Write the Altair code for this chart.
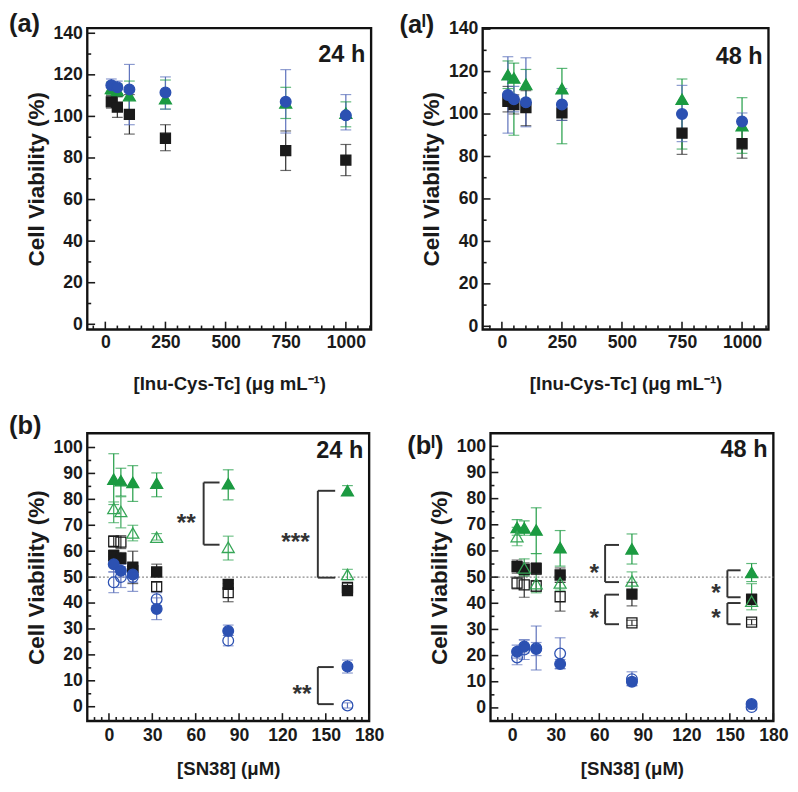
import altair as alt
import pandas as pd

FONT = "Liberation Sans"
INK = "#1a1a1a"
GREEN = "#1b9a41"
GREEN_O = "#36a657"
BLUE = "#2c51b2"
BLUE_E = "#5a6fba"

# ---------------- data ----------------
inu_conc = [25, 50, 100, 250, 750, 1000]
sn38_conc = [3.3, 8.25, 16.5, 33, 82.5, 165]

# (a) 24 h
a24_sq = [107, 104.5, 101, 89.5, 83.5, 79]
a24_sq_lo = [104, 99.5, 91.5, 83.5, 74, 71.5]
a24_sq_hi = [110, 109.5, 110.5, 96, 93, 86.5]
a24_tri = [113.5, 112.5, 110, 108.5, 106.5, 101.5]
a24_tri_lo = [110.5, 109.5, 103, 103.5, 99, 95]
a24_tri_hi = [116.5, 115.5, 117, 117.5, 114, 107]
a24_cir = [115, 114, 113, 111.5, 107, 100.5]
a24_cir_lo = [112, 111, 96, 103.5, 92, 93.5]
a24_cir_hi = [118, 117, 125, 119, 122.5, 110.5]

# (a') 48 h
a48_sq = [106, 104.5, 103, 100.5, 91, 86]
a48_sq_lo = [101, 100, 94.5, 97, 81, 79.2]
a48_sq_hi = [113, 109, 111, 104, 100.5, 92.5]
a48_tri = [118.5, 117, 114, 112, 107, 94.5]
a48_tri_lo = [112, 90, 107, 86, 83.5, 81.5]
a48_tri_hi = [125, 124, 121, 121.5, 116.5, 107.7]
a48_cir = [109, 107, 105.5, 104.5, 100, 96.5]
a48_cir_lo = [91, 101, 94, 97, 87, 92.5]
a48_cir_hi = [127, 113, 126.5, 112, 113.5, 100.5]

# (b) 24 h
b24_trif = [87.8, 87.2, 86.5, 86.2, 86, 83.3]
b24_trif_lo = [78, 81.3, 79.2, 81, 79.8, 81.5]
b24_trif_hi = [97.6, 92, 93, 90.2, 91.4, 85.3]
b24_trio = [76.5, 75.3, 67, 65.4, 61.5, 51]
b24_trio_lo = [71, 69, 64, 64.3, 56.6, 49]
b24_trio_hi = [79, 81, 70, 66.8, 65.8, 53]
b24_sqf = [58.3, 57.2, 53.8, 52, 47.2, 44.8]
b24_sqf_lo = [56, 55, 47.5, 50, 45.5, 44]
b24_sqf_hi = [60.5, 59.5, 60, 55, 49, 45.8]
b24_sqo = [63.8, 63.5, 52.5, 46.3, 44, 46]
b24_sqo_lo = [61.5, 61, 50, 44.5, 40.5, 44.5]
b24_sqo_hi = [66, 66, 55, 48, 47.5, 47.5]
b24_cirf = [55, 52.5, 51, 37.7, 29.2, 15.5]
b24_cirf_lo = [52, 50, 48, 33.6, 27.5, 13]
b24_cirf_hi = [58, 55, 54, 42, 31.5, 18]
b24_ciro = [48, 50, 50, 41.5, 25.5, 0.5]
b24_ciro_lo = [44, 46, 44.5, 39, 23.5, -0.5]
b24_ciro_hi = [52, 54, 55.5, 44, 27.5, 1.5]

# (b') 48 h
b48_trif = [69, 68.8, 68, 61.3, 60.8, 51.8]
b48_trif_lo = [66, 66, 59, 54.2, 55, 48.3]
b48_trif_hi = [72, 71.5, 76.5, 67.8, 66.5, 55.2]
b48_trio = [65.5, 53.5, 47.5, 47.8, 48.5, 40.8]
b48_trio_lo = [62, 50.5, 44, 45, 45, 37.5]
b48_trio_hi = [69, 57, 59, 50.5, 52, 47.5]
b48_sqf = [54, 53, 53.2, 50.8, 43.5, 41.5]
b48_sqf_lo = [51.5, 50.5, 51, 48, 39, 39.5]
b48_sqf_hi = [56.5, 55.5, 55.5, 53.5, 48, 43.5]
b48_sqo = [47.7, 47, 46.6, 42.5, 32.5, 32.8]
b48_sqo_lo = [45.5, 42.3, 44.5, 37, 31.5, 31.8]
b48_sqo_hi = [50, 51.7, 48.7, 48, 33.5, 33.8]
b48_cirf = [21.5, 23.5, 22.5, 16.8, 10, 1.5]
b48_cirf_lo = [19, 21, 20, 15, 8.5, 0.5]
b48_cirf_hi = [24, 26, 25, 18.5, 11.5, 2.5]
b48_ciro = [19.3, 22.3, 22.8, 20.8, 11, 0.3]
b48_ciro_lo = [16.5, 18.5, 14.5, 15, 8.5, -0.5]
b48_ciro_hi = [22, 26, 31.3, 26.8, 13.8, 1.2]

# significance brackets: x of vertical line, x of arm end, y top, y bottom
b24_br_x = [65.5, 144.5, 144.5]
b24_br_xe = [76.5, 156.5, 155.5]
b24_br_yt = [86.5, 83.3, 15.3]
b24_br_yb = [62.5, 49.8, 1.0]
b24_star_x = [53.5, 129, 133.5]
b24_star_y = [73, 65.8, 7.1]
b24_star_t = ["**", "***", "**"]

b48_br_x = [64, 64, 148.3, 148.3]
b48_br_xe = [73.6, 73.6, 157.4, 157.4]
b48_br_yt = [62.3, 43.3, 52.6, 40.1]
b48_br_yb = [48.1, 32, 42.3, 32]
b48_star_x = [56.6, 56.6, 140.4, 140.4]
b48_star_y = [53.8, 36.5, 46.2, 36.5]
b48_star_t = ["*", "*", "*", "*"]

ref_line = [50]

SERIES = ["sq_f", "sq_o", "tri_f", "tri_o", "cir_f", "cir_o"]
SHAPES = ["square", "square", "triangle-up", "triangle-up", "circle", "circle"]
STROKES = [INK, INK, GREEN, GREEN_O, BLUE, BLUE]
FILLS = [INK, "transparent", GREEN, "transparent", BLUE, "transparent"]
ERRC = ["#2a2a2a", "#2a2a2a", GREEN, GREEN_O, BLUE_E, BLUE_E]
SIZES = [105, 105, 150, 150, 120, 120]


def panel(xs, series, xdom, ydom, xlabels, ylabels, xminor, yminor, W, H,
          xtitle, label, lab_x, lab_y, time_txt, time_y, xlabpad, xtitlepad,
          brackets=None, stars=None, ref=None):
    xscale = alt.Scale(domain=xdom, nice=False, zero=False)
    yscale = alt.Scale(domain=ydom, nice=False, zero=False)
    xaxis = alt.Axis(values=xlabels, title=xtitle, ticks=False, domain=False, grid=False,
                     labelPadding=xlabpad, titlePadding=xtitlepad, labelFlush=False,
                     format="d", titleFontSize=19)
    yaxis = alt.Axis(values=ylabels, title="Cell Viability (%)", ticks=False, domain=False,
                     grid=False, labelPadding=5, titlePadding=5, labelFlush=False,
                     format="d", titleFontSize=23)

    def X(f):
        return alt.X(f, type="quantitative", scale=xscale, axis=xaxis)

    def Y(f):
        return alt.Y(f, type="quantitative", scale=yscale, axis=yaxis)

    rows = []
    for name, ys, lo, hi in series:
        for xv, yv, l, h in zip(xs, ys, lo, hi):
            rows.append(dict(x=xv, y=yv, lo=l, hi=h, s=name))
    df = pd.DataFrame(rows)

    ecol = alt.Color("s:N", scale=alt.Scale(domain=SERIES, range=ERRC), legend=None)
    layers = []
    if ref is not None:
        layers.append(alt.Chart(pd.DataFrame({"y": ref})).mark_rule(
            color="#8a8a8a", strokeDash=[2, 2], strokeWidth=1.2).encode(
            y=Y("y"), x=alt.value(0), x2=alt.value(W)))
    if brackets is not None:
        bx, bxe, byt, byb = brackets
        segs = []
        for x0, x1, y0, y1 in zip(bx, bxe, byt, byb):
            segs.append(dict(x=x0, x2=x0, y=y0, y2=y1))
            segs.append(dict(x=x0, x2=x1, y=y0, y2=y0))
            segs.append(dict(x=x0, x2=x1, y=y1, y2=y1))
        layers.append(alt.Chart(pd.DataFrame(segs)).mark_rule(
            color="#333333", strokeWidth=2).encode(
            x=X("x"), x2="x2", y=Y("y"), y2="y2"))
    if stars is not None:
        sx, sy, st = stars
        layers.append(alt.Chart(pd.DataFrame({"x": sx, "y": sy, "t": st})).mark_text(
            fontSize=25, fontWeight="bold", color="#333333", dy=6, font=FONT).encode(
            x=X("x"), y=Y("y"), text="t:N"))
    layers.append(alt.Chart(df).mark_rule(strokeWidth=1.2).encode(
        x=X("x"), y=Y("lo"), y2="hi", color=ecol))
    for f in ["lo", "hi"]:
        layers.append(alt.Chart(df).mark_tick(orient="horizontal", size=11, thickness=1.2).encode(
            x=X("x"), y=Y(f), color=ecol))
    layers.append(alt.Chart(df).mark_point(opacity=1, strokeWidth=1.3).encode(
        x=X("x"), y=Y("y"),
        shape=alt.Shape("s:N", scale=alt.Scale(domain=SERIES, range=SHAPES), legend=None),
        stroke=alt.Stroke("s:N", scale=alt.Scale(domain=SERIES, range=STROKES), legend=None),
        fill=alt.Fill("s:N", scale=alt.Scale(domain=SERIES, range=FILLS), legend=None),
        size=alt.Size("s:N", scale=alt.Scale(type="ordinal", domain=SERIES, range=SIZES), legend=None),
    ))
    # inward ticks
    for vals, ln in [(ylabels, 8), (yminor, 4)]:
        layers.append(alt.Chart(pd.DataFrame({"y": vals})).mark_rule(
            color=INK, strokeWidth=1.6).encode(y=Y("y"), x=alt.value(0), x2=alt.value(ln)))
    for vals, ln in [(xlabels, 8), (xminor, 4)]:
        layers.append(alt.Chart(pd.DataFrame({"x": vals})).mark_rule(
            color=INK, strokeWidth=1.6).encode(x=X("x"), y=alt.value(H), y2=alt.value(H - ln)))
    lab = pd.DataFrame({"t": [label]})
    layers.append(alt.Chart(lab).mark_text(
        fontSize=26, fontWeight="bold", align="left", baseline="middle", color=INK, font=FONT).encode(
        x=alt.value(lab_x), y=alt.value(lab_y), text="t:N"))
    tm = pd.DataFrame({"t": [time_txt]})
    layers.append(alt.Chart(tm).mark_text(
        fontSize=24, fontWeight="bold", align="right", baseline="middle", color=INK, font=FONT).encode(
        x=alt.value(W - 6), y=alt.value(time_y), text="t:N"))
    return alt.layer(*layers).properties(width=W, height=H)


inu_title = "[Inu-Cys-Tc] (\u03bcg mL\u207b\u00b9)"
sn_title = "[SN38] (\u03bcM)"

a_xmaj = [0, 250, 500, 750, 1000]
a_xmin = [v for v in range(-50, 1101, 50) if v not in a_xmaj]
a_ymaj = list(range(0, 141, 20))
a_ymin = list(range(10, 141, 20))
b_xmaj = list(range(0, 181, 30))
b_xmin = [v for v in range(-10, 181, 5) if v not in b_xmaj]
b_ymaj = list(range(0, 101, 10))
b_ymin = list(range(5, 101, 10))

pa = panel(inu_conc,
           [("sq_f", a24_sq, a24_sq_lo, a24_sq_hi),
            ("tri_f", a24_tri, a24_tri_lo, a24_tri_hi),
            ("cir_f", a24_cir, a24_cir_lo, a24_cir_hi)],
           [-75, 1105], [-2.5, 142.5], a_xmaj, a_ymaj, a_xmin, a_ymin, 290, 308,
           inu_title, "(a)", -80, -4, "24 h", 28, 4, 24)
pa2 = panel(inu_conc,
            [("sq_f", a48_sq, a48_sq_lo, a48_sq_hi),
             ("tri_f", a48_tri, a48_tri_lo, a48_tri_hi),
             ("cir_f", a48_cir, a48_cir_lo, a48_cir_hi)],
            [-80, 1110], [-1.5, 140.5], a_xmaj, a_ymaj, a_xmin, a_ymin, 292, 308,
            inu_title, "(a\u02e1)", -85, -3, "48 h", 30, 4, 24)
pb = panel(sn38_conc,
           [("sq_f", b24_sqf, b24_sqf_lo, b24_sqf_hi),
            ("sq_o", b24_sqo, b24_sqo_lo, b24_sqo_hi),
            ("tri_f", b24_trif, b24_trif_lo, b24_trif_hi),
            ("tri_o", b24_trio, b24_trio_lo, b24_trio_hi),
            ("cir_f", b24_cirf, b24_cirf_lo, b24_cirf_hi),
            ("cir_o", b24_ciro, b24_ciro_lo, b24_ciro_hi)],
           [-15, 180], [-5.5, 105.5], b_xmaj, b_ymaj, b_xmin, b_ymin, 288, 294,
           sn_title, "(b)", -80, -7, "24 h", 18, 6, 16,
           brackets=(b24_br_x, b24_br_xe, b24_br_yt, b24_br_yb),
           stars=(b24_star_x, b24_star_y, b24_star_t), ref=ref_line)
pb2 = panel(sn38_conc,
            [("sq_f", b48_sqf, b48_sqf_lo, b48_sqf_hi),
             ("sq_o", b48_sqo, b48_sqo_lo, b48_sqo_hi),
             ("tri_f", b48_trif, b48_trif_lo, b48_trif_hi),
             ("tri_o", b48_trio, b48_trio_lo, b48_trio_hi),
             ("cir_f", b48_cirf, b48_cirf_lo, b48_cirf_hi),
             ("cir_o", b48_ciro, b48_ciro_lo, b48_ciro_hi)],
            [-15, 180], [-5, 105], b_xmaj, b_ymaj, b_xmin, b_ymin, 289, 294,
            sn_title, "(b\u02e1)", -85, 13, "48 h", 17, 6, 16,
            brackets=(b48_br_x, b48_br_xe, b48_br_yt, b48_br_yb),
            stars=(b48_star_x, b48_star_y, b48_star_t), ref=ref_line)

row1 = alt.hconcat(pa, pa2, spacing=25)
row2 = alt.hconcat(pb, pb2, spacing=20)
chart = alt.vconcat(row1, row2, spacing=17).properties(
    padding={"left": -1, "top": -7, "right": 0, "bottom": 0}
).configure(font=FONT).configure_view(
    stroke="#111111", strokeWidth=2.4
).configure_axis(
    labelFont=FONT, titleFont=FONT, labelFontSize=18, labelFontWeight="bold",
    titleFontWeight="bold", labelColor="#1a1a1a", titleColor="#1a1a1a"
)

chart.save("out.html", embed_options={"renderer": "svg", "actions": False})
